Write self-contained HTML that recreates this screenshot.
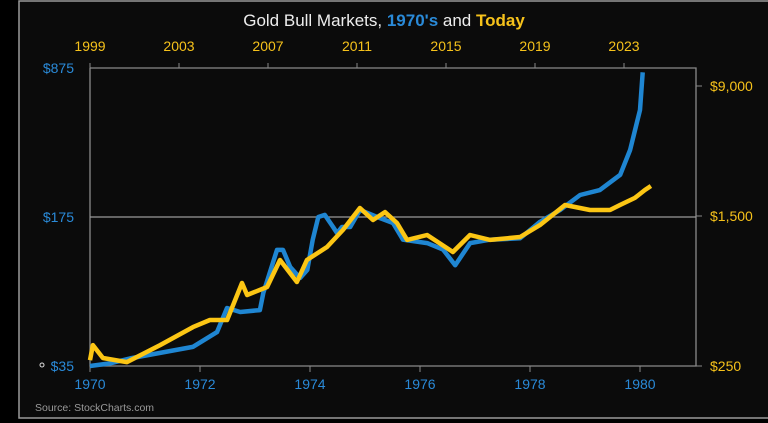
<!DOCTYPE html>
<html><head><meta charset="utf-8"><style>
body{margin:0;background:#000;width:768px;height:423px;overflow:hidden;font-family:"Liberation Sans",sans-serif}
svg{display:block}
</style></head><body>
<svg id="c" width="768" height="423">
<rect x="0" y="0" width="768" height="423" fill="#000"/>
<rect x="19" y="1" width="760" height="417" fill="#0b0b0b" stroke="#9a9a9a" stroke-width="1.5"/>
<text x="384" y="26" text-anchor="middle" font-size="17" fill="#eee" font-family="Liberation Sans Narrow, Liberation Sans, sans-serif">Gold Bull Markets, <tspan fill="#2a8ad8" font-weight="bold">1970's</tspan> and <tspan fill="#f6c21b" font-weight="bold">Today</tspan></text>
<text x="35" y="411" font-size="10.5" fill="#9a9a9a">Source: StockCharts.com</text>
<g id="axes"></g>
<g id="series"></g>
</svg>
<script>
const blueYears=[1970.0,1970.36,1970.73,1971.87,1972.31,1972.49,1972.73,1973.09,1973.15,1973.4,1973.51,1973.64,1973.82,1973.95,1974.05,1974.15,1974.27,1974.42,1974.49,1974.58,1974.73,1974.91,1975.22,1975.51,1975.69,1976.13,1976.42,1976.64,1976.91,1977.27,1977.82,1978.18,1978.55,1978.91,1979.27,1979.64,1979.82,1980.0,1980.05];
const bluePrices=[35,36,38,43,50.5,65.5,62.7,64,77,122.6,122.6,102,90.5,98.8,136.6,175,179,157,147,157,157,189,175,164,137,132,123,104,132,137,139,166,189,222,234,276,361,556,835];
const yellowYears=[1999.0,1999.13,1999.58,2000.66,2002.15,2003.63,2004.39,2005.16,2005.83,2006.06,2006.96,2007.54,2008.3,2008.75,2009.65,2010.37,2011.13,2011.72,2012.26,2012.8,2013.25,2014.15,2015.31,2016.08,2016.98,2018.33,2019.22,2020.35,2021.47,2022.37,2022.82,2023.49,2023.94,2024.21];
const yellowPrices=[268,321,275,262,321,398,433,433,674,584,642,887,682,887,1036,1270,1650,1430,1571,1380,1128,1195,976,1195,1128,1167,1345,1710,1612,1612,1710,1861,2047,2147];
const bottomTicks=[1970,1972,1974,1976,1978,1980];
const topTicks=[1999,2003,2007,2011,2015,2019,2023];
const leftTicks=[35,175,875];
const leftLabels=["$35","$175","$875"];
const rightTicks=[250,1500,9000];
const rightLabels=["$250","$1,500","$9,000"];

const L=90,R=696,T=68,B=366;
const xB=y=>L+(y-1970)*55;
const xT=y=>L+(y-1999)*22.25;
const yL=p=>B-Math.log(p/35)/Math.log(25)*(B-T);
const yR=p=>B-Math.log(p/250)/Math.log(6)*150;
const NS="http://www.w3.org/2000/svg";
function mk(tag,attrs,parent){const e=document.createElementNS(NS,tag);for(const k in attrs)e.setAttribute(k,attrs[k]);parent.appendChild(e);return e;}
const ax=document.getElementById('axes'),se=document.getElementById('series');
let e;
e=mk('polyline',{points:`${L},${T} ${R},${T} ${R},${B} ${L},${B} ${L},${T}`,fill:'none',stroke:'#8a8a8a','stroke-width':1.3},ax);


e=mk('line',{x1:L,x2:R,y1:yL(175),y2:yL(175),stroke:'#9a9a9a','stroke-width':1.3},ax);


bottomTicks.forEach(t=>{
  mk('line',{x1:xB(t),x2:xB(t),y1:B,y2:B+6,stroke:'#8a8a8a'},ax);
  e=mk('text',{x:xB(t),y:B+23,'text-anchor':'middle','font-size':14,fill:'#2a8ad8','font-family':'Liberation Sans Narrow, Liberation Sans, sans-serif'},ax);
  e.textContent=t;
  
  
});
topTicks.forEach(t=>{
  mk('line',{x1:xT(t),x2:xT(t),y1:T,y2:T-5,stroke:'#8a8a8a'},ax);
  e=mk('text',{x:xT(t),y:T-17,'text-anchor':'middle','font-size':14,fill:'#f6c21b','font-family':'Liberation Sans Narrow, Liberation Sans, sans-serif'},ax);
  e.textContent=t;
  
  
});
leftTicks.forEach((t,i)=>{
  e=mk('text',{x:L-16,y:yL(t)+5,'text-anchor':'end','font-size':14,fill:'#2a8ad8','font-family':'Liberation Sans Narrow, Liberation Sans, sans-serif'},ax);
  e.textContent=leftLabels[i];
  
  
});
mk('circle',{cx:42,cy:yL(35)-1,r:2,fill:'none',stroke:'#ddd'},ax);
rightTicks.forEach((t,i)=>{
  const y=i==2?86:yR(t);
  mk('line',{x1:R,x2:R+6,y1:y,y2:y,stroke:'#8a8a8a'},ax);
  e=mk('text',{x:R+14,y:y+5,'font-size':14,fill:'#f6c21b','font-family':'Liberation Sans Narrow, Liberation Sans, sans-serif'},ax);
  e.textContent=rightLabels[i];
  
  
});
e=mk('polyline',{points:blueYears.map((y,i)=>xB(y).toFixed(1)+','+yL(bluePrices[i]).toFixed(1)).join(' '),fill:'none',stroke:'#1f86d2','stroke-width':4.5,'stroke-linejoin':'round'},se);


e=mk('polyline',{points:yellowYears.map((y,i)=>xT(y).toFixed(1)+','+yR(yellowPrices[i]).toFixed(1)).join(' '),fill:'none',stroke:'#fcc614','stroke-width':4.5,'stroke-linejoin':'round'},se);


</script>
</body></html>
